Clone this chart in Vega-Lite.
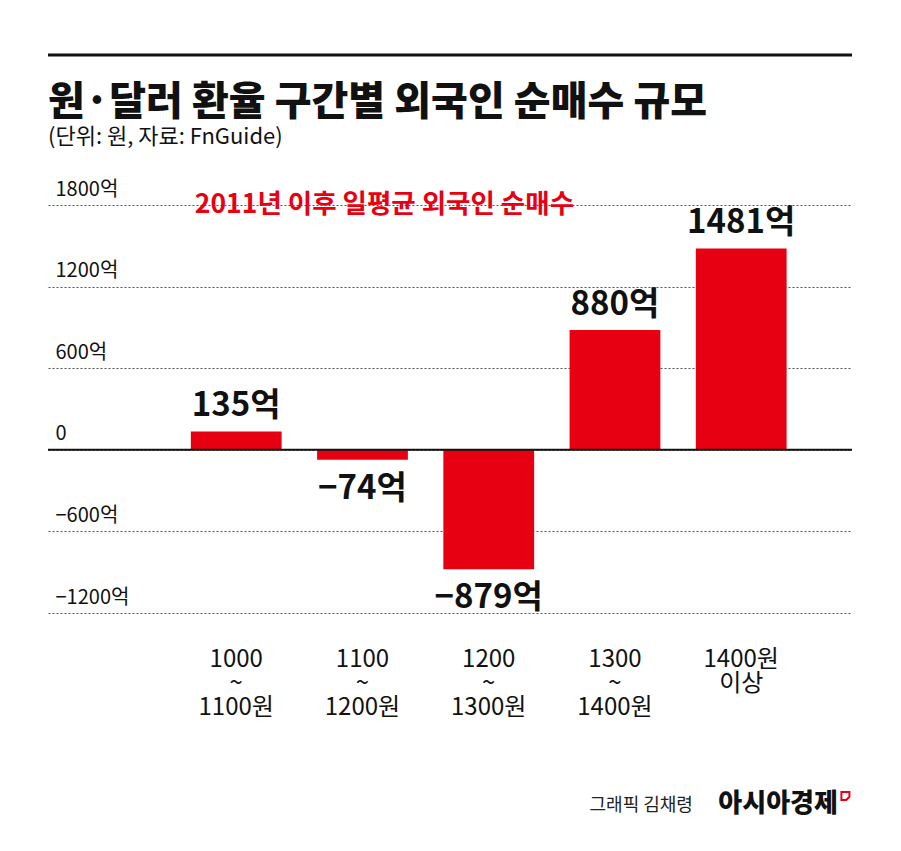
{
  "$schema": "https://vega.github.io/schema/vega-lite/v6.json",
  "width": 804,
  "height": 408,
  "autosize": {"type": "none"},
  "padding": {"left": 48, "top": 205, "right": 49, "bottom": 238},
  "background": "white",
  "title": {
    "text": "원·달러 환율 구간별 외국인 순매수 규모",
    "subtitle": "(단위: 원, 자료: FnGuide)",
    "anchor": "start",
    "frame": "group",
    "font": "Noto Sans CJK KR",
    "fontSize": 40,
    "fontWeight": 900,
    "color": "#111111",
    "subtitleFont": "Noto Sans CJK KR",
    "subtitleFontSize": 22,
    "subtitleColor": "#111111",
    "subtitlePadding": 4,
    "offset": -95
  },
  "data": {
    "values": [
      {"range": "1000~1100원", "value": 135},
      {"range": "1100~1200원", "value": -74},
      {"range": "1200~1300원", "value": -879},
      {"range": "1300~1400원", "value": 880},
      {"range": "1400원 이상", "value": 1481}
    ]
  },
  "transform": [
    {"calculate": "format(datum.value, 'd') + '억'", "as": "lbl"}
  ],
  "layer": [
    {
      "mark": {"type": "bar", "color": "#e60012"},
      "encoding": {
        "x": {
          "field": "range",
          "type": "nominal",
          "sort": null,
          "scale": {"paddingInner": 0.281, "paddingOuter": 0.8247, "align": 0.686},
          "axis": {
            "orient": "bottom",
            "title": null,
            "domain": false,
            "ticks": false,
            "labelAngle": 0,
            "labelFont": "Noto Sans CJK KR",
            "labelFontSize": 24,
            "labelColor": "#111111",
            "labelLineHeight": 24,
            "labelPadding": 34,
            "labelBaseline": "top",
            "labelExpr": "indexof(datum.value, '~') > 0 ? [split(datum.value, '~')[0], '~', split(datum.value, '~')[1]] : split(datum.value, ' ')"
          }
        },
        "y": {
          "field": "value",
          "type": "quantitative",
          "scale": {"domain": [-1200, 1800], "nice": false, "zero": false},
          "axis": {
            "values": [-1200, -600, 0, 600, 1200, 1800],
            "title": null,
            "grid": true,
            "gridDash": [2, 2],
            "gridColor": "#555555",
            "gridWidth": 1,
            "domain": false,
            "ticks": false,
            "tickSize": 0,
            "format": "d",
            "labelAlign": "left",
            "labelBaseline": "alphabetic",
            "labelPadding": -7,
            "labelOffset": -10,
            "labelFlush": false,
            "labelOverlap": false,
            "labelFont": "Noto Sans CJK KR",
            "labelFontSize": 20,
            "labelColor": "#111111",
            "labelExpr": "datum.value == 0 ? '0' : datum.label + '억'"
          }
        }
      }
    },
    {
      "transform": [{"filter": "datum.value >= 0"}],
      "mark": {"type": "text", "baseline": "alphabetic", "dy": -15, "font": "Noto Sans CJK KR", "fontSize": 33, "fontWeight": "bold", "color": "#111111"},
      "encoding": {
        "x": {"field": "range", "type": "nominal", "sort": null},
        "y": {"field": "value", "type": "quantitative"},
        "text": {"field": "lbl"}
      }
    },
    {
      "transform": [{"filter": "datum.value < 0"}],
      "mark": {"type": "text", "baseline": "top", "dy": 13, "font": "Noto Sans CJK KR", "fontSize": 33, "fontWeight": "bold", "color": "#111111"},
      "encoding": {
        "x": {"field": "range", "type": "nominal", "sort": null},
        "y": {"field": "value", "type": "quantitative"},
        "text": {"field": "lbl"}
      }
    },
    {
      "data": {"values": [{}]},
      "mark": {"type": "rule", "color": "#111111", "strokeWidth": 2},
      "encoding": {"y": {"datum": 0, "type": "quantitative"}}
    },
    {
      "data": {"values": [{}]},
      "mark": {"type": "rule", "color": "#111111", "strokeWidth": 3},
      "encoding": {"y": {"datum": 2903, "type": "quantitative"}}
    },
    {
      "data": {"values": [{}]},
      "mark": {"type": "text", "align": "left", "baseline": "middle", "font": "Noto Sans CJK KR", "fontSize": 26.5, "fontWeight": "bold", "color": "#e60012", "xOffset": 4},
      "encoding": {
        "x": {"datum": "1000~1100원", "type": "nominal", "bandPosition": 0},
        "y": {"datum": 1800, "type": "quantitative"},
        "text": {"value": "2011년 이후 일평균 외국인 순매수"}
      }
    },
    {
      "data": {"values": [{}]},
      "mark": {"type": "text", "align": "right", "baseline": "alphabetic", "font": "Noto Sans CJK KR", "fontSize": 18, "color": "#222222", "xOffset": -93.7, "yOffset": 198},
      "encoding": {
        "x": {"datum": "1400원 이상", "type": "nominal", "bandPosition": 1},
        "y": {"datum": -1200, "type": "quantitative"},
        "text": {"value": "그래픽 김채령"}
      }
    },
    {
      "data": {"values": [{}]},
      "mark": {"type": "text", "align": "right", "baseline": "alphabetic", "font": "Noto Sans CJK KR", "fontSize": 26, "fontWeight": 900, "color": "#111111", "xOffset": 51.3, "yOffset": 199},
      "encoding": {
        "x": {"datum": "1400원 이상", "type": "nominal", "bandPosition": 1},
        "y": {"datum": -1200, "type": "quantitative"},
        "text": {"value": "아시아경제"}
      }
    },
    {
      "data": {"values": [{}]},
      "mark": {"type": "point", "shape": "M -1 -1 L 1 -1 L 1 0.2 L 0.2 1 L -1 1 Z", "size": 64, "filled": false, "stroke": "#e60012", "strokeWidth": 2, "opacity": 1, "xOffset": 58.8, "yOffset": 183},
      "encoding": {
        "x": {"datum": "1400원 이상", "type": "nominal", "bandPosition": 1},
        "y": {"datum": -1200, "type": "quantitative"}
      }
    }
  ],
  "config": {
    "view": {"stroke": null}
  }
}
